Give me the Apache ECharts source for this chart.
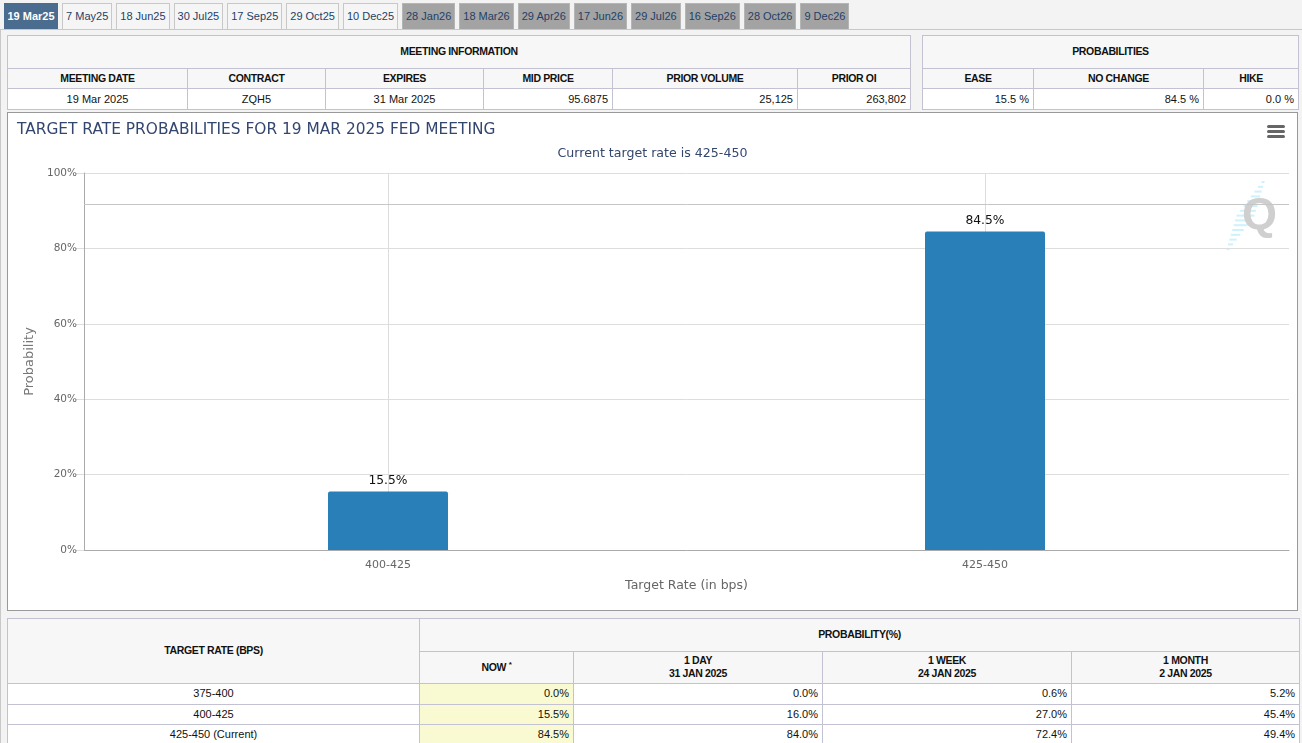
<!DOCTYPE html>
<html>
<head>
<meta charset="utf-8">
<title>Target rate probabilities</title>
<script src="https://cdn.jsdelivr.net/npm/echarts@6/dist/echarts.min.js"></script>
<style>
html, body { margin: 0; padding: 0; width: 1302px; height: 743px; overflow: hidden; background: #f3f3f3; font-family: "Liberation Sans", Arial, sans-serif; }
#tabs { position: absolute; left: 4px; top: 3px; display: flex; }
#tabs div { height: 26px; line-height: 25px; box-sizing: border-box; padding: 0 3px; margin-right: 4px; font-size: 11px; text-align: center; color: #1f3f66; background: #f5f5f5; border: 1px solid #c8c8c8; border-bottom: 0; }
#tabs div.active { background: #4a6d8f; color: #fff; font-weight: bold; border-color: #4a6d8f; padding: 0 2.5px; }
#tabs div.later { background: #a3a3a3; border-color: #b5b5b5; }
#rule { position: absolute; left: 0; top: 29px; width: 1302px; height: 1px; background: #c8c8c8; }
#edge { position: absolute; left: 0; top: 29px; width: 1px; height: 714px; background: #c8c8c8; }
table { position: absolute; table-layout: fixed; border-collapse: collapse; font-size: 11px; color: #111; background: #fff; }
td, th { border: 1px solid #c2c2d2; padding: 0 4px 1px; overflow: hidden; white-space: nowrap; box-sizing: border-box; }
th { background: #f7f7f7; font-size: 10.5px; letter-spacing: -0.35px; font-weight: bold; text-align: center; line-height: 13px; }
td { text-align: right; }
td.c { text-align: center; }
td.now { background: #fafad2; }
sup { font-size: 8px; line-height: 0; }
#chart { position: absolute; left: 7px; top: 112px; width: 1291px; height: 499px; box-sizing: border-box; border: 1px solid #999; background: #fff; }
</style>
</head>
<body>
<div id="tabs"></div>
<div id="rule"></div>
<div id="edge"></div>
<div id="info"></div>
<div id="chart"></div>
<div id="history"></div>
<script>
// tabs
var meetingTabs = ['19 Mar25', '7 May25', '18 Jun25', '30 Jul25', '17 Sep25', '29 Oct25', '10 Dec25', '28 Jan26', '18 Mar26', '29 Apr26', '17 Jun26', '29 Jul26', '16 Sep26', '28 Oct26', '9 Dec26'];
var firstLaterTab = 7;

// top tables
var infoHeaders = ['MEETING DATE', 'CONTRACT', 'EXPIRES', 'MID PRICE', 'PRIOR VOLUME', 'PRIOR OI'];
var infoValues = ['19 Mar 2025', 'ZQH5', '31 Mar 2025', '95.6875', '25,125', '263,802'];
var probHeaders = ['EASE', 'NO CHANGE', 'HIKE'];
var probValues = ['15.5 %', '84.5 %', '0.0 %'];

// chart
var targetRates = ['400-425', '425-450'];
var probabilities = [15.5, 84.5];
var yTicks = [0, 20, 40, 60, 80, 100];
var upperLine = 91.8;

// bottom table
var historyRates = ['375-400', '400-425', '425-450 (Current)'];
var historyNow = ['0.0%', '15.5%', '84.5%'];
var history1Day = ['0.0%', '16.0%', '84.0%'];
var history1Week = ['0.6%', '27.0%', '72.4%'];
var history1Month = ['5.2%', '45.4%', '49.4%'];

document.getElementById('tabs').innerHTML = meetingTabs.map(function (t, i) {
    var cls = i === 0 ? 'active' : (i >= firstLaterTab ? 'later' : '');
    return '<div class="' + cls + '">' + t + '</div>';
}).join('');

function cols(widths) {
    return '<colgroup>' + widths.map(function (w) { return '<col style="width:' + w + 'px">'; }).join('') + '</colgroup>';
}

function tableHtml(left, top, widths, title, headers, values, centered) {
    var total = widths.reduce(function (a, b) { return a + b; }, 0);
    return '<table style="left:' + left + 'px;top:' + top + 'px;width:' + total + 'px">' + cols(widths) +
        '<tr style="height:33px"><th colspan="' + widths.length + '">' + title + '</th></tr>' +
        '<tr style="height:20px">' + headers.map(function (h) { return '<th>' + h + '</th>'; }).join('') + '</tr>' +
        '<tr style="height:21px">' + values.map(function (v, i) {
            return '<td' + (centered.indexOf(i) >= 0 ? ' class="c"' : '') + '>' + v + '</td>';
        }).join('') + '</tr></table>';
}

document.getElementById('info').innerHTML =
    tableHtml(7, 35, [180, 138, 158, 129, 185, 113], 'MEETING INFORMATION', infoHeaders, infoValues, [0, 1, 2]) +
    tableHtml(922, 35, [111, 170, 95], 'PROBABILITIES', probHeaders, probValues, []);

var historyRows = historyRates.map(function (r, i) {
    return '<tr style="height:20.5px"><td class="c">' + r + '</td><td class="now">' + historyNow[i] + '</td><td>' +
        history1Day[i] + '</td><td>' + history1Week[i] + '</td><td>' + history1Month[i] + '</td></tr>';
}).join('');
document.getElementById('history').innerHTML =
    '<table style="left:7px;top:618px;width:1292px">' + cols([412, 154, 249, 249, 228]) +
    '<tr style="height:33px"><th rowspan="2">TARGET RATE (BPS)</th><th colspan="4">PROBABILITY(%)</th></tr>' +
    '<tr style="height:32px"><th>NOW <sup>*</sup></th><th>1 DAY<br>31 JAN 2025</th><th>1 WEEK<br>24 JAN 2025</th><th>1 MONTH<br>2 JAN 2025</th></tr>' +
    historyRows + '</table>';

var chartFont = '"DejaVu Sans", sans-serif';
var myChart = echarts.init(document.getElementById('chart'), null, { renderer: 'canvas' });

// faint dashes behind the Q watermark
var watermark = [];
for (var i = 0; i < 15; i++) {
    var len = 3 + 15 * (1 - Math.abs(i - 7) / 7);
    watermark.push({
        type: 'rect',
        shape: { x: 1255 - i * 2.5 - len / 2, y: 68 + i * 4.8, width: len, height: 2 },
        style: { fill: '#cdf2fc' }
    });
}
watermark.push({
    type: 'text', left: 1234, top: 81,
    style: { text: 'Q', font: 'bold 45px "Liberation Sans", sans-serif', fill: '#cfcfcf' }
});
var menuIcon = [12, 17, 22].map(function (y) {
    return {
        type: 'rect',
        shape: { x: 1259, y: y, width: 18, height: 3, r: 1.5 },
        style: { fill: '#666' }
    };
});

myChart.setOption({
    animation: false,
    title: [{
        text: 'TARGET RATE PROBABILITIES FOR 19 MAR 2025 FED MEETING',
        left: 4, top: 4,
        textStyle: { fontFamily: chartFont, fontWeight: 'normal', fontSize: 15.4, color: '#33466f' }
    }, {
        text: 'Current target rate is 425-450',
        left: 'center', top: 29,
        textStyle: { fontFamily: chartFont, fontWeight: 'normal', fontSize: 12.6, color: '#33466f' }
    }],
    // grid 0 carries the value axis, grid 1 the two bars
    grid: [
        { left: 76, top: 60, width: 1205, height: 377 },
        { left: 81.5, top: 60, width: 1194, height: 377 }
    ],
    xAxis: [{
        gridIndex: 0, type: 'category', data: [''],
        axisLine: { lineStyle: { color: '#aaaaaa' } },
        axisTick: { show: false }, axisLabel: { show: false }
    }, {
        gridIndex: 1, type: 'category', data: targetRates,
        name: 'Target Rate (in bps)', nameLocation: 'middle', nameGap: 29,
        nameTextStyle: { fontFamily: chartFont, fontSize: 12.5, color: '#666' },
        axisLine: { show: false },
        axisTick: { alignWithLabel: true, length: 10, lineStyle: { color: '#dddddd' } },
        axisLabel: { fontFamily: chartFont, fontSize: 11, color: '#666', margin: 10 },
        splitLine: { show: true, alignWithLabel: true, lineStyle: { color: '#dddddd' } }
    }],
    yAxis: [{
        gridIndex: 0, type: 'value', min: 0, max: 100, interval: yTicks[1] - yTicks[0],
        name: 'Probability', nameLocation: 'middle', nameGap: 46,
        nameTextStyle: { fontFamily: chartFont, fontSize: 13, color: '#777' },
        axisLine: { show: true, lineStyle: { color: '#aaaaaa' } },
        axisTick: { show: true, length: 8, lineStyle: { color: '#dddddd' } },
        axisLabel: { fontFamily: chartFont, fontSize: 10.5, color: '#666', margin: 7, padding: [2, 0, 0, 0], formatter: '{value}%' },
        splitLine: { lineStyle: { color: '#dddddd' } }
    }, {
        gridIndex: 1, type: 'value', min: 0, max: 100, show: false
    }],
    series: [{
        type: 'line', xAxisIndex: 0, yAxisIndex: 0, data: [], silent: true,
        markLine: {
            silent: true, symbol: 'none', animation: false, label: { show: false },
            lineStyle: { color: '#c6c6c6', type: 'solid', width: 1 },
            data: [{ yAxis: upperLine }]
        }
    }, {
        type: 'bar', xAxisIndex: 1, yAxisIndex: 1, data: probabilities, barWidth: 120,
        itemStyle: { color: '#2980b9', borderRadius: [2, 2, 0, 0] },
        label: {
            show: true, position: 'top', distance: 5, formatter: '{c}%',
            fontFamily: chartFont, fontSize: 12.3, color: '#111'
        }
    }],
    graphic: watermark.concat(menuIcon)
});
</script>
</body>
</html>
